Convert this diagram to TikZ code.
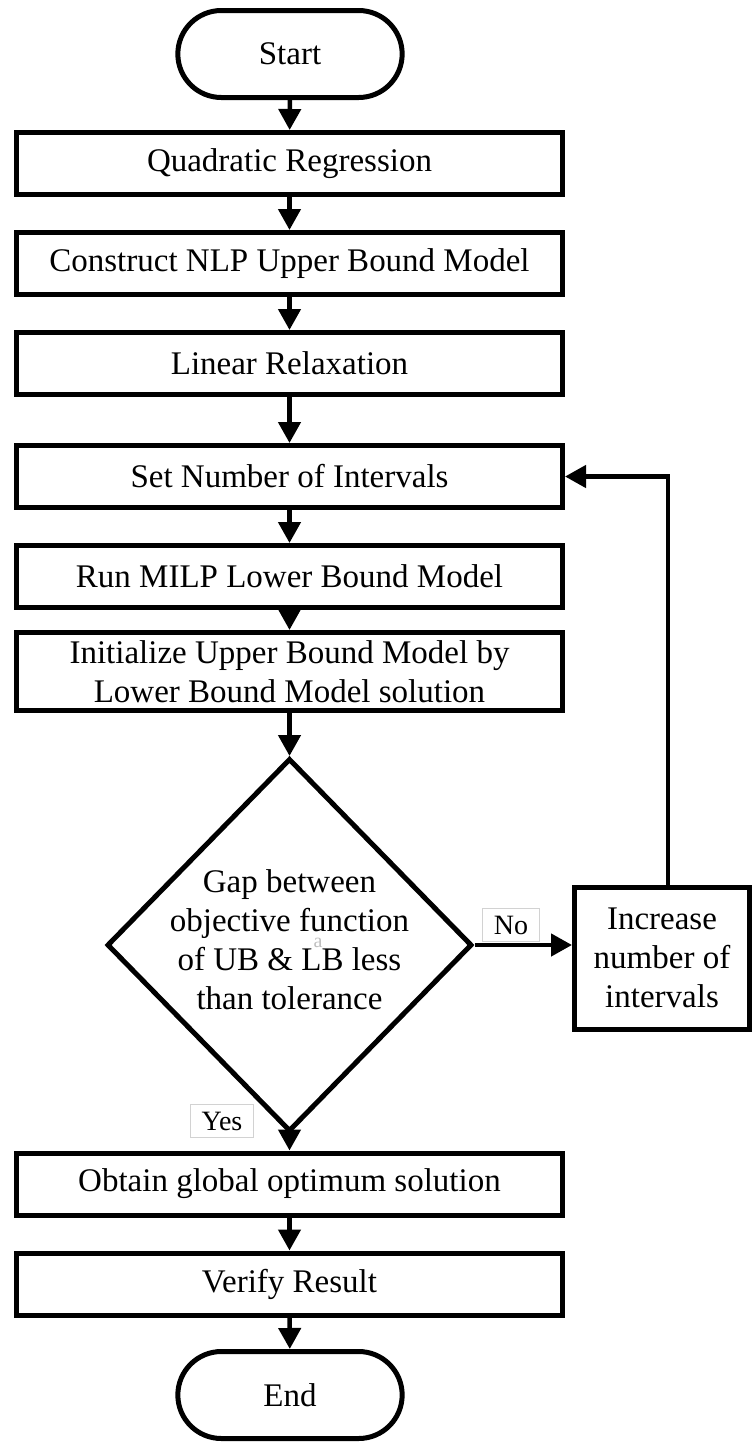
\documentclass[tikz,border=0pt]{standalone}
\usepackage{fontspec}
\setmainfont{Liberation Serif}
\usetikzlibrary{shapes.geometric,shapes.misc,arrows.meta}
\newcommand{\mainfs}{\fontsize{33}{39}\selectfont}
\newcommand{\lblfs}{\fontsize{28}{32}\selectfont}
\begin{document}
\begin{tikzpicture}[x=1pt,y=1pt,
  box/.style={draw, line width=5pt, minimum width=546pt, minimum height=62pt, inner sep=0pt, align=center, font=\mainfs},
  term/.style={draw, line width=5pt, rounded rectangle, minimum width=231pt, minimum height=87pt, font=\mainfs},
  arr/.style={line width=4.5pt, -{Triangle[width=22pt,length=21pt]}},
  lbl/.style={draw=gray!35, line width=1pt, fill=white, font=\lblfs, inner xsep=11pt, inner ysep=7pt},
  dia/.style={diamond, draw, line width=5pt, minimum width=365pt, minimum height=373pt, inner sep=0pt}
]
\useasboundingbox (0,0) rectangle (755,-1451);
\node[term] (start) at (290,-54) {Start};
\node[box] (q) at (289.5,-163.5) {Quadratic Regression};
\node[box] (c) at (289.5,-263.5) {Construct NLP Upper Bound Model};
\node[box] (l) at (289.5,-363.5) {Linear Relaxation};
\node[box] (s) at (289.5,-476.5) {Set Number of Intervals};
\node[box] (r) at (289.5,-576.5) {Run MILP Lower Bound Model};
\node[box, minimum height=78pt] (i) at (289.5,-671.5) {Initialize Upper Bound Model by\\Lower Bound Model solution};
\node[dia] (d) at (289.5,-945) {};
\node[font=\mainfs, align=center] (dt) at (289.5,-940) {Gap between\\objective function\\of UB \& LB less\\than tolerance};
\node[text=gray!50, font=\fontsize{20}{20}\selectfont] (stray) at (318,-943) {a};
\node[box, minimum width=175pt, minimum height=142pt] (inc) at (662,-958) {Increase\\number of\\intervals};
\node[box] (o) at (289.5,-1184) {Obtain global optimum solution};
\node[box] (v) at (289.5,-1284) {Verify Result};
\node[term] (e) at (290,-1395) {End};
\draw[arr] (start) -- (q);
\draw[arr] (q) -- (c);
\draw[arr] (c) -- (l);
\draw[arr] (l) -- (s);
\draw[arr] (s) -- (r);
\draw[arr] (r) -- (i);
\draw[arr] (i) -- (d);
\draw[arr] (d.south) -- (o.north);
\draw[arr] (o) -- (v);
\draw[arr] (v) -- (e);
\draw[arr] (d.east) -- (d.east -| inc.west);
\draw[arr] ([xshift=6pt]inc.north) |- (s.east);
\node[lbl] (no) at (511,-925) {No};
\node[lbl] (yes) at (222,-1121) {Yes};
\end{tikzpicture}
\end{document}
